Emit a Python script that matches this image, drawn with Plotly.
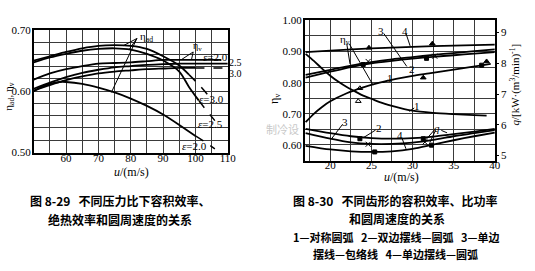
import plotly.graph_objects as go

# ---------------- Left chart (Fig 8-29) data ----------------
ad30_u = [50, 55, 60, 65, 70, 75, 80, 85, 90, 95, 98]
ad30 = [0.650, 0.657, 0.664, 0.670, 0.674, 0.675, 0.674, 0.669, 0.657, 0.642, 0.627]
ad30d_u = [98, 101, 104]
ad30d = [0.627, 0.611, 0.593]

ad25_u = [50, 55, 60, 65, 70, 75, 80, 85, 90, 95, 98, 101]
ad25 = [0.647, 0.655, 0.661, 0.666, 0.669, 0.670, 0.668, 0.661, 0.650, 0.632, 0.607, 0.585]
ad25d_u = [101, 103.5, 106]
ad25d = [0.585, 0.568, 0.552]

ad20_u = [50, 52.5, 55, 58, 60, 65, 70, 75, 80, 85, 90, 95, 100]
ad20 = [0.600, 0.607, 0.612, 0.615, 0.615, 0.612, 0.606, 0.598, 0.588, 0.576, 0.562, 0.545, 0.527]
ad20d_u = [100, 103, 106]
ad20d = [0.527, 0.517, 0.506]

v20_u = [50, 55, 60, 65, 70, 75, 80, 85, 90, 95, 100, 108]
v20 = [0.619, 0.629, 0.636, 0.641, 0.645, 0.646, 0.647, 0.649, 0.651, 0.651, 0.651, 0.651]
v25_u = [50, 55, 60, 65, 70, 75, 80, 85, 90, 95, 100, 110]
v25 = [0.604, 0.614, 0.623, 0.630, 0.635, 0.639, 0.641, 0.643, 0.644, 0.645, 0.645, 0.645]
v30_u = [50, 55, 60, 65, 70, 75, 80, 85, 90, 95, 100]
v30 = [0.601, 0.610, 0.618, 0.624, 0.629, 0.632, 0.634, 0.636, 0.637, 0.638, 0.638]
v30d_u = [100, 110]
v30d = [0.638, 0.638]

left_xticks = [50, 55, 60, 65, 70, 75, 80, 85, 90, 95, 100, 105, 110]
left_xlabels = ["", "", "60", "", "70", "", "80", "", "90", "", "100", "", "110"]
left_yticks = [0.50, 0.52, 0.54, 0.56, 0.58, 0.60, 0.62, 0.64, 0.66, 0.68, 0.70]
left_ylabels = ["0.50", "", "", "", "", "0.60", "", "", "", "", "0.70"]

# ---------------- Right chart (Fig 8-30) data ----------------
eta4_u = [17, 20, 25, 30, 35, 40]
eta4 = [0.898, 0.903, 0.910, 0.915, 0.919, 0.922]
eta23_u = [17, 20, 22.5, 25, 27.5, 30, 32.5, 35, 37.5, 40]
eta2 = [0.825, 0.841, 0.855, 0.866, 0.875, 0.882, 0.889, 0.895, 0.901, 0.907]
eta3 = [0.816, 0.835, 0.850, 0.862, 0.870, 0.877, 0.883, 0.888, 0.893, 0.898]
eta1_u = [17, 18, 19, 20, 22, 24, 26, 28, 30, 32, 34, 36, 38, 39.5]
eta1 = [0.673, 0.700, 0.722, 0.740, 0.766, 0.785, 0.800, 0.812, 0.822, 0.830, 0.838, 0.846, 0.854, 0.860]

q1_u = [17, 18, 19, 20, 21, 22, 23, 24, 25, 26, 27.5, 30, 32.5, 35, 37.5, 39]
q1 = [8.31, 8.08, 7.83, 7.60, 7.40, 7.23, 7.09, 6.95, 6.85, 6.74, 6.62, 6.46, 6.39, 6.35, 6.32, 6.30]
q_u = [17, 20, 22.5, 25, 27.5, 30, 32.5, 35, 37.5, 40]
q2 = [5.87, 5.73, 5.63, 5.57, 5.55, 5.57, 5.62, 5.70, 5.78, 5.87]
q3 = [5.73, 5.55, 5.43, 5.38, 5.38, 5.42, 5.51, 5.63, 5.73, 5.83]
q4 = [5.32, 5.20, 5.14, 5.12, 5.14, 5.22, 5.36, 5.50, 5.63, 5.75]

# measured points (markers)
pt_tri_u = [24.7, 32.4, 31.3, 39.0]
pt_tri = [0.912, 0.925, 0.816, 0.868]
pt_trio_u = [23.6]
pt_trio = [0.782]
pt_x_u = [24.6, 32.7]
pt_x = [0.868, 0.885]
pt_sq_u = [24.0, 31.7, 38.4]
pt_sq = [0.858, 0.878, 0.856]
qpt_trio_u = [23.4]
qpt_trio = [6.77]
qpt_sq_u = [23.6, 25.4, 31.3, 32.3]
qpt_sq = [5.55, 5.12, 5.55, 5.34]
qpt_x_u = [24.6, 31.5]
qpt_x = [5.37, 5.44]

right_xticks = [17.5, 20, 22.5, 25, 27.5, 30, 32.5, 35, 37.5, 40]
right_xlabels = ["", "20", "", "25", "", "30", "", "35", "", "40"]
right_yticks = [0.55, 0.60, 0.65, 0.70, 0.75, 0.80, 0.85, 0.90, 0.95, 1.00]
right_ylabels = ["", "0.60", "", "0.70", "", "0.80", "", "0.90", "", "1.00"]
q_ticks = [5, 6, 7, 8, 9]

W, H = 535, 271
def px(x):
    return x / W
def py(y):
    return 1 - y / H

SERIF = "Liberation Serif"
CJK = "Noto Sans CJK SC"
LW = 1.8

fig = go.Figure()

def line(xs, ys, xa="x", ya="y", dash="solid", w=LW):
    fig.add_trace(go.Scatter(x=xs, y=ys, xaxis=xa, yaxis=ya, mode="lines",
                             line=dict(color="black", width=w, dash=dash, shape="spline", smoothing=0.8),
                             showlegend=False, hoverinfo="skip"))

# left
line(ad30_u, ad30); line(ad30d_u, ad30d, dash="dash", w=1.5)
line(ad25_u, ad25); line(ad25d_u, ad25d, dash="dash", w=1.5)
line(ad20_u, ad20); line(ad20d_u, ad20d, dash="dash", w=1.5)
line(v20_u, v20); line(v25_u, v25); line(v30_u, v30)
line(v30d_u, v30d, dash="dash", w=1.5)

# right
line(eta4_u, eta4, "x2", "y3")
line(eta23_u, eta2, "x2", "y3")
line(eta23_u, eta3, "x2", "y3")
line(eta1_u, eta1, "x2", "y3")
line(q1_u, q1, "x2", "y4")
line(q_u, q2, "x2", "y4")
line(q_u, q3, "x2", "y4")
line(q_u, q4, "x2", "y4")

def pts(xs, ys, sym, ya="y3", size=5):
    fig.add_trace(go.Scatter(x=xs, y=ys, xaxis="x2", yaxis=ya, mode="markers",
                             marker=dict(symbol=sym, size=size, color="black",
                                         line=dict(color="black", width=1)),
                             showlegend=False, hoverinfo="skip"))

pts(pt_tri_u, pt_tri, "triangle-up")
pts(pt_trio_u, pt_trio, "triangle-up-open")
pts(pt_x_u, pt_x, "x-thin-open")
pts(pt_sq_u, pt_sq, "square", size=4)
pts(qpt_trio_u, qpt_trio, "triangle-up-open", ya="y4")
pts(qpt_sq_u, qpt_sq, "square", ya="y4", size=4)
pts(qpt_x_u, qpt_x, "x-thin-open", ya="y4")

GRID = "#3a3a3a"
tickfont = dict(family=SERIF, size=11, color="black")
axcommon = dict(showline=True, linecolor="black", linewidth=1.5, mirror=True,
                showgrid=True, gridcolor=GRID, gridwidth=1, zeroline=False,
                tickfont=tickfont, ticks="", fixedrange=True)

fig.update_layout(
    width=W, height=H, margin=dict(l=0, r=0, t=0, b=0),
    paper_bgcolor="white", plot_bgcolor="white", showlegend=False,
    xaxis=dict(domain=[px(34.3), px(231.7)], range=[50, 110], anchor="y",
               tickmode="array", tickvals=left_xticks, ticktext=left_xlabels,
               ticklabelstandoff=-5, **axcommon),
    yaxis=dict(domain=[py(153.3), py(25)], range=[0.50, 0.70], anchor="x",
               tickmode="array", tickvals=left_yticks, ticktext=left_ylabels,
               ticklabelstandoff=-1, **axcommon),
    xaxis2=dict(domain=[px(310), px(503.3)], range=[16.9, 40], anchor="y3",
                tickmode="array", tickvals=right_xticks, ticktext=right_xlabels,
                ticklabelstandoff=-6, **axcommon),
    yaxis3=dict(domain=[py(161.7), py(15)], range=[0.55, 1.00], anchor="x2",
                tickmode="array", tickvals=right_yticks, ticktext=right_ylabels,
                ticklabelstandoff=-1, **axcommon),
    yaxis4=dict(overlaying="y3", side="right", anchor="x2", range=[4.84, 9.40],
                tickmode="array", tickvals=q_ticks, ticktext=[str(v) for v in q_ticks],
                showgrid=False, showline=False, zeroline=False, ticks="outside", ticklen=3,
                tickcolor="black", tickfont=tickfont, fixedrange=True),
)

ann = []
def text_data(x, y, t, xr="x", yr="y", size=11, xanchor="center", family=SERIF):
    ann.append(dict(x=x, y=y, xref=xr, yref=yr, text=t, showarrow=False,
                    xanchor=xanchor, yanchor="middle",
                    font=dict(family=family, size=size, color="black")))

def text_paper(x, y, t, size=12, family=CJK, angle=0, color="black"):
    ann.append(dict(x=px(x), y=py(y), xref="paper", yref="paper", text=t, showarrow=False,
                    xanchor="center", yanchor="middle", textangle=angle,
                    font=dict(family=family, size=size, color=color)))

shapes = []
def seg(x0, y0, x1, y1, xr="x", yr="y", w=1):
    shapes.append(dict(type="line", x0=x0, y0=y0, x1=x1, y1=y1, xref=xr, yref=yr,
                       line=dict(color="black", width=w)))

# left chart labels
text_data(85.0, 0.689, "η<sub>ad</sub>")
seg(81.9, 0.686, 77.6, 0.674)
seg(81.9, 0.686, 79.6, 0.669)
seg(81.9, 0.686, 74.0, 0.598)
text_data(100.6, 0.673, "η<sub>v</sub>", size=10)
seg(99.3, 0.664, 95.8, 0.652)
seg(99.3, 0.664, 98.8, 0.652)
text_data(106.2, 0.656, "<i>ε</i>=2.0")
text_data(105.0, 0.587, "<i>ε</i>=3.0")
text_data(104.6, 0.546, "<i>ε</i>=2.5")
text_data(99.8, 0.511, "<i>ε</i>=2.0")
text_paper(240, 59, "2.5", size=10, family=SERIF)
text_paper(240, 70.5, "3.0", size=10, family=SERIF)

# right chart labels
text_data(21.8, 0.936, "η<sub>v</sub>", xr="x2", yr="y3")
seg(22.0, 0.925, 22.4, 0.860, xr="x2", yr="y3")
seg(22.3, 0.925, 25.2, 0.792, xr="x2", yr="y3")
text_data(26.2, 0.967, "3", xr="x2", yr="y3")
seg(26.5, 0.958, 29.3, 0.852, xr="x2", yr="y3")
text_data(29.9, 0.843, "2", xr="x2", yr="y3")
text_data(29.1, 0.967, "4", xr="x2", yr="y3")
seg(29.2, 0.958, 29.7, 0.918, xr="x2", yr="y3")
text_data(27.2, 0.815, "1", xr="x2", yr="y3")
seg(27.0, 0.808, 26.4, 0.800, xr="x2", yr="y3")
text_data(30.5, 6.62, "1", xr="x2", yr="y4")
seg(30.2, 6.55, 29.6, 6.44, xr="x2", yr="y4")
text_data(33.0, 5.90, "<i>q</i>", xr="x2", yr="y4")
seg(32.6, 5.82, 31.5, 5.48, xr="x2", yr="y4")
seg(32.8, 5.82, 32.1, 5.43, xr="x2", yr="y4")
seg(33.5, 5.82, 34.2, 5.74, xr="x2", yr="y4")
text_data(21.8, 6.10, "3", xr="x2", yr="y4")
seg(21.5, 6.02, 20.1, 5.53, xr="x2", yr="y4")
text_data(25.9, 5.90, "2", xr="x2", yr="y4")
seg(25.5, 5.83, 24.0, 5.58, xr="x2", yr="y4")
text_data(28.5, 5.66, "4", xr="x2", yr="y4")
seg(28.7, 5.58, 29.2, 5.22, xr="x2", yr="y4")

# axis titles
text_paper(9, 95, "η<sub>ad</sub>, η<sub>v</sub>", size=11, family=SERIF, angle=-90)
text_paper(134, 174, "<i>u</i>/(m/s)", size=12, family=SERIF)
text_paper(279, 97, "η<sub>v</sub>", size=12, family=SERIF, angle=-90)
text_paper(524, 82, "<i>q</i>/[kW·(m<sup>3</sup>/min)<sup>-1</sup>]", size=11, family=SERIF, angle=-90)
text_paper(408, 178.5, "<i>u</i>/(m/s)", size=12, family=SERIF)

# watermark
text_paper(287, 129, "制冷设", size=11, family=CJK, color="#c9c9c9")

# captions
text_paper(122.5, 203, "<b>图 8-29   不同压力比下容积效率、</b>", size=12)
text_paper(122.5, 223, "<b>绝热效率和圆周速度的关系</b>", size=12)
text_paper(402.5, 203, "<b>图 8-30   不同齿形的容积效率、比功率</b>", size=12)
text_paper(403.5, 222, "<b>和圆周速度的关系</b>", size=12)
text_paper(402.5, 242, "<b>1—对称圆弧   2—双边摆线—圆弧   3—单边</b>", size=11)
text_paper(402.0, 260, "<b>摆线—包络线   4—单边摆线—圆弧</b>", size=11)

fig.update_layout(annotations=ann, shapes=shapes)
fig.write_html("out.html")
